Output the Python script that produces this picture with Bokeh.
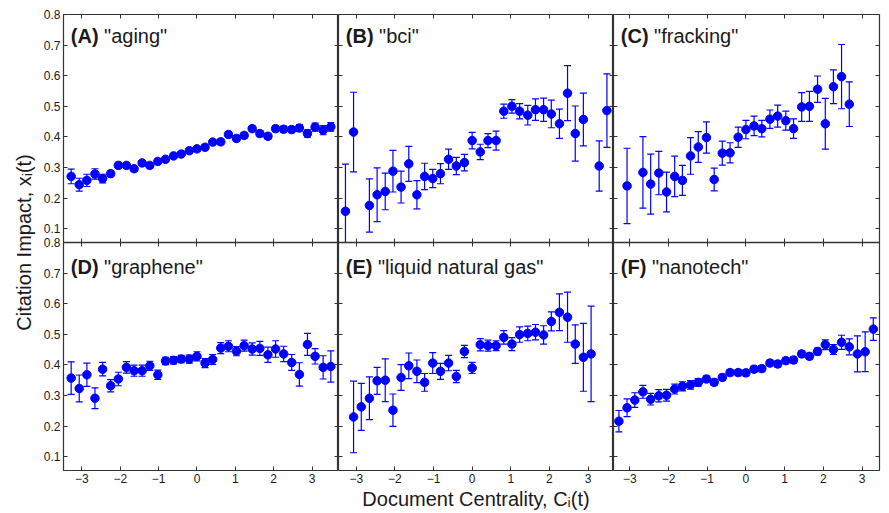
from bokeh.plotting import figure
from bokeh.models import (Range1d, LinearAxis, FixedTicker, Whisker, TeeHead,
                          ColumnDataSource, Label)
from bokeh.layouts import row
from bokeh.embed import file_html
from bokeh.resources import INLINE

# ---------------- data ----------------
x_ticks = [-3, -2, -1, 0, 1, 2, 3]
y_ticks = [0.1, 0.2, 0.3, 0.4, 0.5, 0.6, 0.7, 0.8]

aging_x = [-3.28, -3.07, -2.87, -2.66, -2.46, -2.25, -2.05, -1.84, -1.64, -1.43, -1.23, -1.02,
           -0.82, -0.61, -0.41, -0.20, 0.00, 0.21, 0.41, 0.62, 0.82, 1.03, 1.23, 1.44, 1.64,
           1.85, 2.05, 2.26, 2.47, 2.67, 2.88, 3.08, 3.29, 3.49]
aging_y = [0.271, 0.244, 0.258, 0.279, 0.264, 0.280, 0.307, 0.307, 0.296, 0.315, 0.307, 0.320,
           0.327, 0.338, 0.344, 0.355, 0.361, 0.366, 0.383, 0.384, 0.408, 0.395, 0.405, 0.427,
           0.411, 0.402, 0.427, 0.425, 0.424, 0.429, 0.411, 0.432, 0.422, 0.433]
aging_err = [0.024, 0.021, 0.020, 0.017, 0.014, 0.010, 0.010, 0.009, 0.008, 0.008, 0.008, 0.008,
             0.008, 0.008, 0.008, 0.008, 0.008, 0.008, 0.008, 0.009, 0.009, 0.009, 0.009, 0.009,
             0.010, 0.010, 0.010, 0.010, 0.010, 0.011, 0.012, 0.013, 0.015, 0.014]

bci_x = [-3.28, -3.07, -2.66, -2.46, -2.25, -2.05, -1.84, -1.64, -1.43, -1.23, -1.02, -0.82,
         -0.61, -0.41, -0.20, 0.00, 0.21, 0.41, 0.62, 0.82, 1.03, 1.23, 1.44, 1.64, 1.85,
         2.05, 2.26, 2.47, 2.67, 2.88, 3.29, 3.49]
bci_y = [0.157, 0.416, 0.176, 0.211, 0.222, 0.288, 0.236, 0.312, 0.211, 0.271, 0.264, 0.280,
         0.327, 0.305, 0.316, 0.388, 0.351, 0.388, 0.388, 0.484, 0.500, 0.484, 0.471, 0.489,
         0.489, 0.475, 0.443, 0.543, 0.411, 0.457, 0.305, 0.486]
bci_err = [0.154, 0.130, 0.087, 0.088, 0.060, 0.068, 0.052, 0.057, 0.046, 0.043, 0.030, 0.033,
           0.033, 0.028, 0.027, 0.027, 0.025, 0.023, 0.031, 0.023, 0.022, 0.025, 0.032, 0.035,
           0.038, 0.045, 0.048, 0.090, 0.090, 0.086, 0.082, 0.120]

fracking_x = [-3.07, -2.66, -2.46, -2.25, -2.05, -1.84, -1.64, -1.43, -1.23, -1.02, -0.82,
              -0.61, -0.41, -0.20, 0.00, 0.21, 0.41, 0.62, 0.82, 1.03, 1.23, 1.44, 1.64,
              1.85, 2.05, 2.26, 2.47, 2.67]
fracking_y = [0.240, 0.284, 0.246, 0.282, 0.220, 0.271, 0.258, 0.338, 0.367, 0.398, 0.261,
              0.347, 0.348, 0.399, 0.424, 0.436, 0.427, 0.458, 0.468, 0.453, 0.427, 0.498,
              0.500, 0.556, 0.443, 0.564, 0.597, 0.507]
fracking_err = [0.123, 0.117, 0.098, 0.071, 0.065, 0.066, 0.049, 0.060, 0.050, 0.051, 0.037,
                0.039, 0.033, 0.033, 0.030, 0.032, 0.027, 0.030, 0.036, 0.031, 0.032, 0.047,
                0.049, 0.043, 0.083, 0.055, 0.105, 0.073]

graphene_x = [-3.28, -3.07, -2.87, -2.66, -2.46, -2.25, -2.05, -1.84, -1.64, -1.43, -1.23,
              -1.02, -0.82, -0.61, -0.41, -0.20, 0.00, 0.21, 0.41, 0.62, 0.82, 1.03, 1.23,
              1.44, 1.64, 1.85, 2.05, 2.26, 2.47, 2.67, 2.88, 3.08, 3.29, 3.49]
graphene_y = [0.357, 0.323, 0.368, 0.291, 0.386, 0.332, 0.354, 0.392, 0.381, 0.381, 0.397,
              0.368, 0.413, 0.415, 0.419, 0.419, 0.428, 0.406, 0.418, 0.455, 0.461, 0.445,
              0.463, 0.452, 0.454, 0.433, 0.452, 0.436, 0.408, 0.369, 0.467, 0.428, 0.392, 0.395]
graphene_err = [0.053, 0.044, 0.038, 0.034, 0.022, 0.020, 0.022, 0.019, 0.018, 0.018, 0.015,
                0.015, 0.012, 0.012, 0.012, 0.013, 0.015, 0.015, 0.016, 0.018, 0.018, 0.015,
                0.018, 0.020, 0.023, 0.025, 0.027, 0.025, 0.026, 0.038, 0.036, 0.025, 0.038, 0.051]

lng_x = [-3.07, -2.87, -2.66, -2.46, -2.25, -2.05, -1.84, -1.64, -1.43, -1.23, -1.02, -0.82,
         -0.61, -0.41, -0.20, 0.00, 0.21, 0.41, 0.62, 0.82, 1.03, 1.23, 1.44, 1.64, 1.85,
         2.05, 2.26, 2.47, 2.67, 2.88, 3.08]
lng_y = [0.230, 0.263, 0.291, 0.348, 0.350, 0.252, 0.359, 0.397, 0.379, 0.343, 0.406, 0.379,
         0.406, 0.362, 0.444, 0.390, 0.466, 0.463, 0.463, 0.490, 0.468, 0.499, 0.503, 0.507,
         0.498, 0.542, 0.572, 0.556, 0.468, 0.425, 0.436]
lng_err = [0.117, 0.077, 0.070, 0.044, 0.070, 0.053, 0.042, 0.042, 0.037, 0.029, 0.034, 0.026,
           0.025, 0.020, 0.020, 0.018, 0.020, 0.018, 0.016, 0.022, 0.021, 0.025, 0.024, 0.025,
           0.030, 0.031, 0.060, 0.082, 0.063, 0.111, 0.156]

nanotech_x = [-3.28, -3.07, -2.87, -2.66, -2.46, -2.25, -2.05, -1.84, -1.64, -1.43, -1.23,
              -1.02, -0.82, -0.61, -0.41, -0.20, 0.00, 0.21, 0.41, 0.62, 0.82, 1.03, 1.23,
              1.44, 1.64, 1.85, 2.05, 2.26, 2.47, 2.67, 2.88, 3.08, 3.29]
nanotech_y = [0.216, 0.260, 0.285, 0.312, 0.288, 0.299, 0.301, 0.321, 0.330, 0.335, 0.343,
              0.354, 0.343, 0.359, 0.375, 0.375, 0.374, 0.386, 0.388, 0.406, 0.403, 0.414,
              0.416, 0.436, 0.428, 0.444, 0.466, 0.450, 0.474, 0.459, 0.436, 0.443, 0.517]
nanotech_err = [0.035, 0.029, 0.024, 0.021, 0.019, 0.020, 0.019, 0.016, 0.015, 0.014, 0.012,
                0.010, 0.010, 0.010, 0.010, 0.010, 0.010, 0.010, 0.010, 0.010, 0.010, 0.010,
                0.010, 0.010, 0.010, 0.011, 0.016, 0.016, 0.023, 0.026, 0.059, 0.065, 0.037]

top_panels = [("(A)", '"aging"', aging_x, aging_y, aging_err),
              ("(B)", '"bci"', bci_x, bci_y, bci_err),
              ("(C)", '"fracking"', fracking_x, fracking_y, fracking_err)]
bottom_panels = [("(D)", '"graphene"', graphene_x, graphene_y, graphene_err),
                 ("(E)", '"liquid natural gas"', lng_x, lng_y, lng_err),
                 ("(F)", '"nanotech"', nanotech_x, nanotech_y, nanotech_err)]

# ---------------- styling ----------------
FONT = "Liberation Sans"
INK = "#333333"
TXT = "#1a1a1a"
BLUE = "#0000FF"
Y_LO, Y_HI = 0.055, 0.8
SPAN = Y_HI - Y_LO
col_xranges = [(-3.48, 3.69), (-3.46, 3.66), (-3.42, 3.45)]
col_widths = [275, 275, 266]
border_left = [63, 0, 0]
border_right = [0, 0, 2]
BOLD_W = {"A": 0.722, "B": 0.722, "C": 0.722, "D": 0.722, "E": 0.667, "F": 0.611}

# y ticks of both rows, expressed on the upper row's range (lower row sits one SPAN lower)
stack_ticks = y_ticks + [round(t - SPAN, 4) for t in y_ticks]
stack_labels = {t: f"{t:.1f}" for t in y_ticks}
stack_labels.update({round(t - SPAN, 4): f"{t:.1f}" for t in y_ticks})


def tick_axis(ticks, labels=False, **kw):
    ax = LinearAxis(ticker=FixedTicker(ticks=ticks), **kw)
    ax.axis_line_color = None
    ax.major_tick_in = 4
    ax.major_tick_out = 0
    ax.major_tick_line_color = INK
    ax.major_tick_line_width = 1
    ax.minor_tick_line_color = None
    if labels:
        ax.major_label_text_font = FONT
        ax.major_label_text_font_size = "12px"
        ax.major_label_text_color = TXT
        ax.major_label_standoff = 3
    else:
        ax.major_label_text_color = None
        ax.major_label_standoff = 0
    return ax


def add_panel(p, panel, xr, yname):
    letter, term, xs, ys, errs = panel
    upper = [y + e for y, e in zip(ys, errs)]
    lower = [y - e for y, e in zip(ys, errs)]
    # error bars are cut at the panel's lower edge, as in the original
    lower_cut = [max(v, Y_LO) for v in lower]
    src = ColumnDataSource(dict(x=xs, y=ys, upper=upper, lower=lower_cut))
    keep = [i for i, v in enumerate(lower) if v >= Y_LO]
    cap_src = ColumnDataSource(dict(x=[xs[i] for i in keep], lower=[lower[i] for i in keep]))
    kw = {} if yname is None else {"y_range_name": yname}
    p.add_layout(Whisker(source=src, base="x", upper="upper", lower="lower", dimension="height",
                         line_color=BLUE, line_width=1.2,
                         upper_head=TeeHead(size=7, line_color=BLUE, line_width=1.2),
                         lower_head=None, **kw))
    p.add_layout(Whisker(source=cap_src, base="x", upper="lower", lower="lower",
                         dimension="height", line_color=BLUE, line_width=1.2,
                         upper_head=None,
                         lower_head=TeeHead(size=7, line_color=BLUE, line_width=1.2), **kw))
    p.scatter(x="x", y="y", source=src, size=8.5, fill_color=BLUE, line_color=BLUE, **kw)
    ly = 0.731 if yname is None else 0.72
    lx = xr[0] + 0.19
    p.add_layout(Label(x=lx, y=ly, text=letter, text_font=FONT, text_font_size="20px",
                       text_font_style="bold", text_baseline="middle", text_color=TXT, **kw))
    off = 20 * (0.666 + BOLD_W[letter[1]]) + 5.5
    p.add_layout(Label(x=lx, y=ly, x_offset=off, text=term, text_font=FONT, text_font_size="20px",
                       text_baseline="middle", text_color=TXT, **kw))


figs = []
for c in range(3):
    xr = col_xranges[c]
    p = figure(frame_width=col_widths[c], frame_height=456,
               x_range=Range1d(*xr), y_range=Range1d(Y_LO - SPAN, Y_HI),
               output_backend="svg", toolbar_location=None, tools="",
               x_axis_location=None, y_axis_location=None,
               min_border_left=border_left[c], min_border_right=border_right[c],
               min_border_top=14, min_border_bottom=42)
    p.extra_y_ranges = {"low": Range1d(Y_LO, Y_HI + SPAN)}
    p.grid.visible = False
    p.outline_line_color = INK
    p.outline_line_width = 1.2
    p.background_fill_color = "white"
    p.border_fill_color = "white"

    # left side
    if c == 0:
        lt = tick_axis(stack_ticks, labels=True)
        lt.major_label_overrides = stack_labels
        lt.axis_label = "Citation Impact, xᵢ(t)"
        lt.axis_label_text_font = FONT
        lt.axis_label_text_font_size = "20px"
        lt.axis_label_text_font_style = "normal"
        lt.axis_label_text_color = TXT
        lt.axis_label_standoff = 6
        p.add_layout(lt, "left")
    else:
        p.add_layout(tick_axis(stack_ticks, fixed_location=xr[0]), "left")
    # right side
    p.add_layout(tick_axis(stack_ticks, fixed_location=xr[1]), "right")
    # top edge
    p.add_layout(tick_axis(x_ticks, fixed_location=Y_HI), "above")
    # divider between the two rows
    mid = tick_axis(x_ticks, fixed_location=Y_LO)
    mid.major_tick_out = 4
    mid.axis_line_color = INK
    mid.axis_line_width = 1.3
    p.add_layout(mid, "below")
    # bottom edge with labels
    bt = tick_axis(x_ticks, labels=True)
    if c == 1:
        bt.axis_label = "Document Centrality, Cᵢ(t)"
        bt.axis_label_text_font = FONT
        bt.axis_label_text_font_size = "20px"
        bt.axis_label_text_font_style = "normal"
        bt.axis_label_text_color = TXT
        bt.axis_label_standoff = 2
    p.add_layout(bt, "below")

    add_panel(p, top_panels[c], xr, None)
    add_panel(p, bottom_panels[c], xr, "low")
    figs.append(p)

layout = row(*figs)
open("out.html", "w").write(file_html(layout, INLINE))
